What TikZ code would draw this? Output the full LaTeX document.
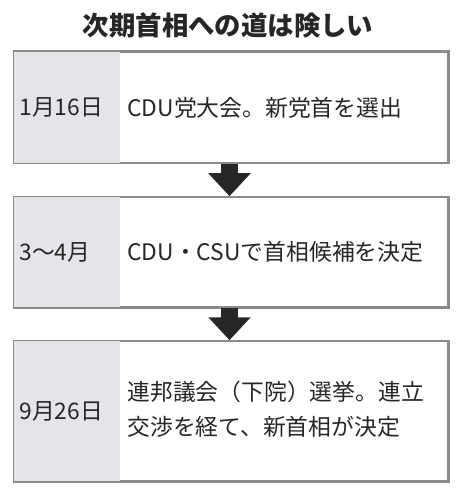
\documentclass[tikz,border=0pt]{standalone}
\usepackage{fontspec}
\setmainfont{Noto Sans CJK JP}
\usetikzlibrary{arrows.meta,positioning}
\definecolor{frameGray}{HTML}{8A8A8A}
\definecolor{dateGray}{HTML}{E4E5E9}
\definecolor{inkDark}{HTML}{262626}
\tikzset{
  stepbox/.style={draw=frameGray, line width=1.5pt, minimum width=434pt, inner sep=0pt},
  eventtext/.style={anchor=west, text=inkDark, align=left, inner sep=0pt},
  flowarrow/.style={inkDark, line width=16.5pt, -{Triangle[width=41pt,length=23pt]}}
}
\begin{document}
\begin{tikzpicture}[x=1pt,y=-1pt,font=\fontsize{22.8}{35}\selectfont]
    \useasboundingbox (0,0) rectangle (461,494);
    % title
    \node[text=inkDark, font=\fontsize{26.4}{30}\selectfont\bfseries] (title) at (228,25) {次期首相への道は険しい};

    % steps
    \node[stepbox, minimum height=111pt] (s1) at (231,107.5) {};
    \node[stepbox, minimum height=110pt] (s2) at (231,252) {};
    \node[stepbox, minimum height=140pt] (s3) at (231,411) {};

    % grey date column
    \foreach \s in {s1,s2,s3} {
        \fill[dateGray] ([xshift=0.75pt,yshift=-0.75pt]\s.north west) rectangle ([xshift=107pt,yshift=0.75pt]\s.south west);
        \draw[frameGray, line width=1.5pt] (\s.north west) rectangle (\s.south east);
    }

    % texts
    \node[eventtext] (d1) at ([xshift=6pt]s1.west) {1月16日};
    \node[eventtext] (d2) at ([xshift=6pt]s2.west) {3〜4月};
    \node[eventtext] (d3) at ([xshift=6pt]s3.west) {9月26日};
    \node[eventtext] (e1) at ([xshift=114pt]s1.west) {CDU党大会。新党首を選出};
    \node[eventtext] (e2) at ([xshift=114pt]s2.west) {CDU・CSUで首相候補を決定};
    \node[eventtext] (e3) at ([xshift=114pt,yshift=2pt]s3.west) {連邦議会（下院）選挙。連立\\交渉を経て、新首相が決定};

    % arrows
    \draw[flowarrow] ([xshift=-1.5pt]s1.south) -- ([xshift=-1.5pt]s2.north);
    \draw[flowarrow] ([xshift=-1.5pt]s2.south) -- ([xshift=-1.5pt]s3.north);
\end{tikzpicture}
\end{document}
